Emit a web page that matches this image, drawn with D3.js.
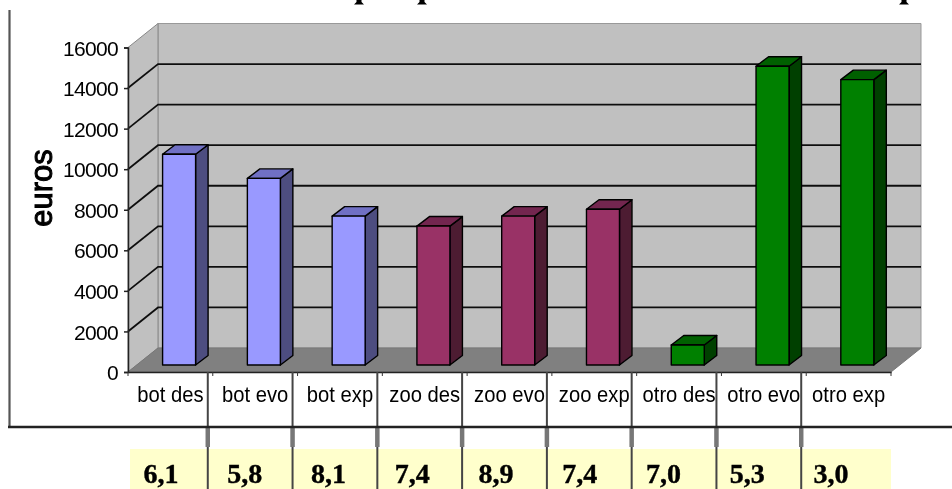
<!DOCTYPE html>
<html lang="es">
    <head>
        <meta charset="UTF-8">
        <title>euros</title>
        <script src="https://d3js.org/d3.v7.min.js"></script>
        <style>
            body { margin: 0; padding: 0; background: #fff; overflow: hidden; }
            svg { display: block; }
            text { font-family: "Liberation Sans", Arial, sans-serif; fill: #000; }
        </style>
    </head>
    <body>
        <svg id="chart" width="952" height="489"></svg>

        <script>
            const categories = ["bot des", "bot evo", "bot exp", "zoo des", "zoo evo", "zoo exp", "otro des", "otro evo", "otro exp"];
            const groups = ["bot", "bot", "bot", "zoo", "zoo", "zoo", "otro", "otro", "otro"];
            const euros = [10390, 9200, 7340, 6850, 7340, 7680, 985, 14730, 14070];
            const tableValues = ["6,1", "5,8", "8,1", "7,4", "8,9", "7,4", "7,0", "5,3", "3,0"];
            const yTicks = [0, 2000, 4000, 6000, 8000, 10000, 12000, 14000, 16000];

            const faceColors = {bot: "#9999ff", zoo: "#993366", otro: "#008000"};
            const topColors = {bot: "#7070c4", zoo: "#73264f", otro: "#006000"};
            const sideColors = {bot: "#4d4d80", zoo: "#4d1a33", otro: "#004000"};

            const svg = d3.select("#chart");

            const defs = svg.append("defs");
            defs.append("filter").attr("id", "soft")
                .attr("x", 0).attr("y", 0).attr("width", 1).attr("height", 1)
                .attr("filterUnits", "objectBoundingBox")
                .append("feGaussianBlur").attr("stdDeviation", 0.65);

            const root = svg.append("g").attr("filter", "url(#soft)");
            root.append("rect").attr("width", 952).attr("height", 489).attr("fill", "#fff");

            // 3d depth of the plot box and of the bars
            const depthX = 30, depthY = 24;
            const barLift = 7, barShift = 8.7, barW = 33, barDepthX = 12.5, barDepthY = 9.5;

            const x = d3.scaleBand().domain(categories).range([128, 891]);
            const y = d3.scaleLinear().domain([0, 16000]).range([372, 47.5]);
            const tableX = d3.scalePoint().domain(categories).range([161, 831]);

            const poly = (pts, fill, stroke) => root.append("polygon")
                .attr("points", pts.map(p => p.join(",")).join(" "))
                .attr("fill", fill)
                .attr("stroke", stroke || "none")
                .attr("stroke-width", 1);

            const x0 = x.range()[0], x1 = x.range()[1];
            const yTop = y(16000), yBase = y(0);

            // the title is cropped by the picture edge, only the feet of three letters are left
            root.append("g").selectAll("path")
                .data([359, 422, 904])
                .join("path")
                .attr("d", d => `M${d - 2.5},0L${d + 2.5},0L${d + 2.5},2L${d + 5},4.5L${d - 5},4.5L${d - 2.5},2Z`)
                .attr("fill", "#000");

            // walls and floor
            poly([[x0 + depthX, yTop - depthY], [x1 + depthX, yTop - depthY], [x1 + depthX, yBase - depthY], [x0 + depthX, yBase - depthY]], "#c0c0c0", "#999");
            poly([[x0, yTop], [x0 + depthX, yTop - depthY], [x0 + depthX, yBase - depthY], [x0, yBase]], "#c0c0c0", "#888");
            poly([[x0, yBase], [x0 + depthX, yBase - depthY], [x1 + depthX, yBase - depthY], [x1, yBase]], "#808080", "#777");

            // gridlines along back wall and left wall
            root.append("g").selectAll("path")
                .data(yTicks.slice(1, -1))
                .join("path")
                .attr("d", d => `M${x0},${y(d)}L${x0 + depthX},${y(d) - depthY}L${x1 + depthX},${y(d) - depthY}`)
                .attr("fill", "none")
                .attr("stroke", "#111")
                .attr("stroke-width", 1.8);

            // bars
            const bar = root.append("g").selectAll("g")
                .data(categories.map((c, i) => ({c, group: groups[i], v: euros[i]})))
                .join("g");

            const bl = d => x(d.c) + x.bandwidth() / 2 + barShift - barW / 2;
            const by = d => y(d.v) - barLift;
            const bb = () => y(0) - barLift;

            bar.append("polygon")
                .attr("points", d => [[bl(d) + barW, by(d)], [bl(d) + barW + barDepthX, by(d) - barDepthY], [bl(d) + barW + barDepthX, bb() - barDepthY], [bl(d) + barW, bb()]].join(" "))
                .attr("fill", d => sideColors[d.group]);
            bar.append("polygon")
                .attr("points", d => [[bl(d), by(d)], [bl(d) + barDepthX, by(d) - barDepthY], [bl(d) + barW + barDepthX, by(d) - barDepthY], [bl(d) + barW, by(d)]].join(" "))
                .attr("fill", d => topColors[d.group]);
            bar.append("rect")
                .attr("x", bl)
                .attr("y", by)
                .attr("width", barW)
                .attr("height", d => bb() - by(d))
                .attr("fill", d => faceColors[d.group]);
            bar.selectAll("polygon, rect")
                .attr("stroke", "#000")
                .attr("stroke-width", 1.4)
                .attr("stroke-linejoin", "round");

            // y axis
            const yAxis = root.append("g")
                .attr("transform", `translate(${x0},0)`)
                .call(d3.axisLeft(y).tickValues(yTicks).tickFormat(d3.format("d")).tickSize(4).tickPadding(6));
            yAxis.selectAll("path, line").attr("stroke", "#222").attr("stroke-width", 1.5);
            yAxis.selectAll("text").style("font-size", "21px").style("letter-spacing", "-0.7px").attr("dy", "0.36em");

            root.append("text")
                .attr("transform", "translate(52,188) rotate(-90)")
                .attr("text-anchor", "middle")
                .style("font-size", "31px")
                .style("stroke", "#000")
                .style("stroke-width", 1)
                .text("euros");

            // x axis, ticks sit on the band edges
            const xAxis = root.append("g")
                .attr("transform", `translate(0,${yBase})`)
                .call(d3.axisBottom(x).tickSize(0).tickPadding(14));
            xAxis.select("path").attr("stroke", "#222").attr("stroke-width", 1.6);
            xAxis.selectAll("text")
                .style("font-size", "22px")
                .attr("dy", "0.71em")
                .attr("transform", "scale(0.92,1)");

            const edges = categories.map(c => x(c)).concat([x1]);
            root.append("g").selectAll("line")
                .data(edges)
                .join("line")
                .attr("x1", d => d).attr("x2", d => d)
                .attr("y1", yBase).attr("y2", yBase + 4)
                .attr("stroke", "#333");

            // outer frame of the pasted chart
            root.append("path").attr("d", "M9.5,10V427").attr("stroke", "#555").attr("stroke-width", 2.2).attr("fill", "none");

            // table under the chart
            root.append("rect")
                .attr("x", 130).attr("y", 449)
                .attr("width", x1 - 130).attr("height", 40)
                .attr("fill", "#ffffcc");

            const seps = root.append("g").selectAll("g")
                .data(edges.slice(1, -1))
                .join("g")
                .attr("transform", d => `translate(${d - 5},0)`);
            seps.append("line").attr("y1", yBase).attr("y2", 489).attr("stroke", "#444").attr("stroke-width", 2);
            seps.append("line").attr("y1", 428).attr("y2", 447).attr("stroke", "#777").attr("stroke-width", 4.5);

            root.append("path").attr("d", "M8,427H952").attr("stroke", "#222").attr("stroke-width", 2.6).attr("fill", "none");

            root.append("g").selectAll("text")
                .data(tableValues)
                .join("text")
                .attr("x", (d, i) => tableX(categories[i]))
                .attr("y", 483)
                .attr("text-anchor", "middle")
                .style("font-family", "'Liberation Serif', serif")
                .style("font-weight", "bold")
                .style("font-size", "28px")
                .style("stroke", "#000")
                .style("stroke-width", 0.4)
                .text(d => d);
        </script>
    </body>
</html>
